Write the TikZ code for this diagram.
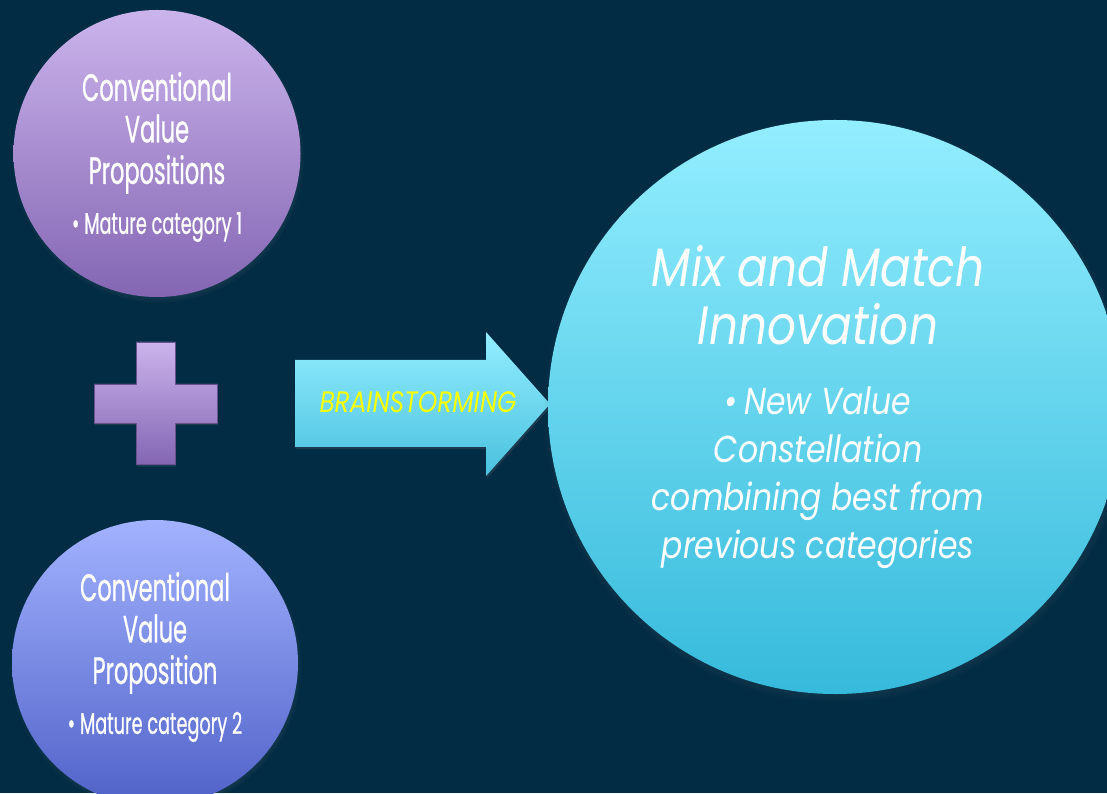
\documentclass[tikz,border=0pt]{standalone}
\usepackage{fontspec}
\setmainfont{Poppins}
\newfontfamily\narrowfont[FakeStretch=0.59,FakeBold=0.6]{Poppins}
\newfontfamily\slantfont[FakeStretch=0.84]{Poppins}
\usetikzlibrary{shadows}
\definecolor{bg}{HTML}{022C44}
\definecolor{lilactop}{HTML}{CBB4EC}
\definecolor{lilacbot}{HTML}{8466B3}
\definecolor{bluetop}{HTML}{A2B2FF}
\definecolor{bluebot}{HTML}{5062C8}
\definecolor{cyantop}{HTML}{93EEFF}
\definecolor{cyanbot}{HTML}{36BADB}
\definecolor{hilite}{HTML}{FFFF00}
\tikzset{every node/.style={circle,draw=none,inner sep=0pt,text=white,align=center}}
\tikzset{t/.style={rectangle}}
\tikzset{soft/.style={circular drop shadow={shadow scale=1.02,shadow xshift=1pt,shadow yshift=-3pt,opacity=0.45}}}
\tikzset{flat/.style={drop shadow={opacity=0.2,shadow xshift=1pt,shadow yshift=-2.5pt}}}
\tikzset{left text/.style={t,font=\narrowfont\fontsize{38}{41.5}\selectfont}}

\begin{document}
\begin{tikzpicture}[x=1pt,y=1pt]
  \fill[bg] (0,0) rectangle (1107,793);
  \useasboundingbox (0,0) rectangle (1107,793);
  % the two starting categories
  \node[soft,top color=lilactop,bottom color=lilacbot,minimum size=287pt] (p1) at (157,639.5) {};
  \node[soft,top color=bluetop,bottom color=bluebot,minimum size=286pt] (p2) at (155,130) {};
  \node[left text] (p1text) at (157,636)
        {Conventional\\Value\\Propositions\\[8.5pt]{\fontsize{30}{30}\selectfont\textbullet\,Mature category 1}};
  \node[left text] (p2text) at (155,136)
        {Conventional\\Value\\Proposition\\[8.5pt]{\fontsize{30}{30}\selectfont\textbullet\,Mature category 2}};
  % plus sign
  \shade[flat,top color=lilactop,bottom color=lilacbot,draw=lilacbot!80!black,line width=0.6pt]
    (136,451) -- (175,451) -- (175,409) -- (217,409) -- (217,370) -- (175,370) -- (175,329)
    -- (136,329) -- (136,370) -- (94,370) -- (94,409) -- (136,409) -- cycle;
  % block arrow
  \shade[flat,top color=cyantop,bottom color=cyanbot!90!white]
    (295,433) -- (486,433) -- (486,461) -- (550,389) -- (486,317) -- (486,346) -- (295,346) -- cycle;
  \node[t,text=hilite,font=\slantfont\itshape\fontsize{29.5}{30}\selectfont] (brain) at (418,391) {BRAINSTORMING};
  % result
  \node[soft,top color=cyantop,bottom color=cyanbot,minimum size=574pt] (mix) at (835,386) {};
  \node[t,font=\slantfont\itshape\fontsize{37.5}{48}\selectfont] (mixtext) at (818,386)
        {{\fontsize{54}{58}\selectfont Mix and Match}\\[10pt]{\fontsize{54}{58}\selectfont Innovation}\\[22pt]
         \textbullet\,New Value\\Constellation\\combining best from\\previous categories};
\end{tikzpicture}
\end{document}
